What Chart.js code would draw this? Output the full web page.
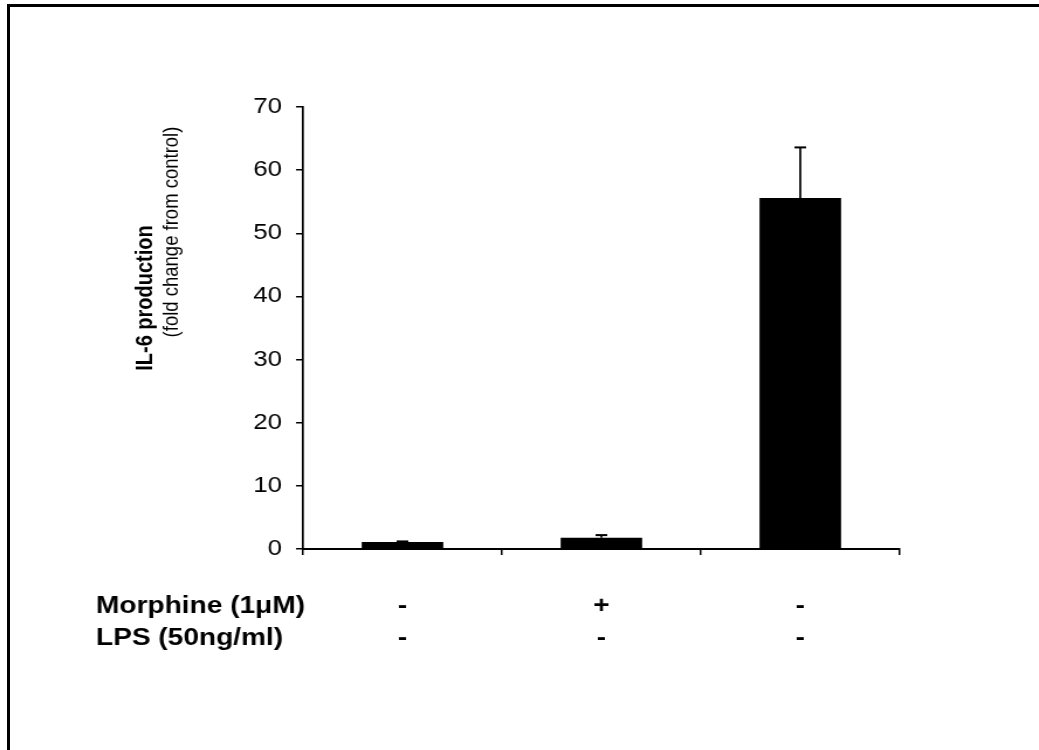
<!DOCTYPE html>
<html>
<head>
<meta charset="utf-8">
<script src="https://cdn.jsdelivr.net/npm/chart.js@4"></script>
<style>
  html, body { margin: 0; padding: 0; background: #fff; overflow: hidden; }
  #wrap { position: relative; width: 1039px; height: 750px; }
  /* the original figure is stretched sideways, so the canvas is too */
  #stretch { position: absolute; left: 0; top: 0; width: 888px; height: 750px; transform: scale(1.17, 1); transform-origin: 0 0; }
  #frame {
    position: absolute; left: 7px; top: 4px; width: 1100px; height: 800px;
    border: 3px solid #000; box-sizing: border-box; pointer-events: none;
  }
</style>
</head>
<body>
<div id="wrap">
  <div id="stretch"><canvas id="myChart" width="888" height="750"></canvas></div>
  <div id="frame"></div>
</div>
<script>
  // data
  const groups = ["control", "morphine", "LPS"]
  const morphineRow = ["-", "+", "-"]
  const lpsRow = ["-", "-", "-"]
  const rowNames = ["Morphine (1\u03bcM)", "LPS (50ng/ml)"]
  const values = [1.1, 1.8, 55.6]
  const errors = [0.1, 0.4, 8.0]
  const yTicks = [0, 10, 20, 30, 40, 50, 60, 70]

  const fontFamily = "Arial, 'Liberation Sans', sans-serif"
  const tickFont = { family: fontFamily, size: 22 }
  const rowFont = { family: fontFamily, size: 24, weight: "bold", lineHeight: 32 / 24 }
  const xTickLen = 6
  const xTickPad = 35

  // error bars on top of each bar
  const errorBars = {
    id: "errorBars",
    afterDatasetsDraw(chart) {
      const ctx = chart.ctx
      const meta = chart.getDatasetMeta(0)
      const y = chart.scales.y
      ctx.save()
      ctx.strokeStyle = "#000"
      meta.data.forEach(function (bar, i) {
        const top = y.getPixelForValue(values[i] + errors[i])
        const base = y.getPixelForValue(values[i])
        ctx.lineWidth = 1.7
        ctx.beginPath()
        ctx.moveTo(bar.x, base)
        ctx.lineTo(bar.x, top)
        ctx.stroke()
        ctx.lineWidth = 2
        ctx.beginPath()
        ctx.moveTo(bar.x - 5, top)
        ctx.lineTo(bar.x + 5, top)
        ctx.stroke()
      })
      ctx.restore()
    }
  }

  function rotatedText(ctx, text, font, x, y) {
    ctx.save()
    ctx.translate(x, y)
    ctx.rotate(-Math.PI / 2)
    ctx.textAlign = "center"
    ctx.textBaseline = "middle"
    ctx.font = font
    ctx.fillText(text, 0, 0)
    ctx.restore()
  }

  // y title (two lines, different weights) and the row names of the table
  const extraText = {
    id: "extraText",
    afterDraw(chart) {
      const ctx = chart.ctx
      const area = chart.chartArea
      const xs = chart.scales.x
      ctx.save()
      ctx.fillStyle = "#000"

      rotatedText(ctx, "IL-6 production", "bold 20px " + fontFamily, area.left - 135, area.top + 191)
      rotatedText(ctx, "(fold change from control)", "18.5px " + fontFamily, area.left - 112, area.top + 125)

      ctx.font = "bold 24px " + fontFamily
      ctx.textAlign = "left"
      ctx.textBaseline = "middle"
      const lh = rowFont.size * rowFont.lineHeight
      rowNames.forEach(function (name, i) {
        ctx.fillText(name, 82, xs.top + xTickLen + xTickPad + lh * (i + 0.5))
      })
      ctx.restore()
    }
  }

  function drawChart() {
    const ctx = document.getElementById("myChart")
    let labels = []
    for (let i = 0; i < groups.length; i++) {
      labels.push([morphineRow[i], lpsRow[i]])
    }

    new Chart(ctx, {
      type: "bar",
      data: {
        labels: labels,
        datasets: [
          {
            data: values,
            backgroundColor: "#000",
            borderWidth: 0,
            barPercentage: 0.41,
            categoryPercentage: 1,
          },
        ],
      },
      options: {
        responsive: false,
        animation: false,
        layout: { padding: { left: 159, top: 107, right: 119, bottom: 0 } },
        plugins: { legend: { display: false }, tooltip: { enabled: false } },
        scales: {
          x: {
            afterFit: function (s) { s.height = 201 },
            grid: { drawOnChartArea: false, drawTicks: true, tickLength: xTickLen, color: "#000", lineWidth: 1.5 },
            border: { color: "#000", width: 2 },
            ticks: { color: "#000", font: rowFont, padding: xTickPad, maxRotation: 0, autoSkip: false },
          },
          y: {
            min: 0,
            max: 70,
            afterFit: function (s) { s.width = 100 },
            afterBuildTicks: function (s) { s.ticks = yTicks.map(function (v) { return { value: v } }) },
            grid: { drawOnChartArea: false, drawTicks: true, tickLength: 6, color: "#000", lineWidth: 1.5 },
            border: { color: "#000", width: 1.7 },
            ticks: { color: "#000", font: tickFont, padding: 12 },
          },
        },
      },
      plugins: [errorBars, extraText],
    })
  }

  document.addEventListener("DOMContentLoaded", drawChart)
</script>
</body>
</html>
